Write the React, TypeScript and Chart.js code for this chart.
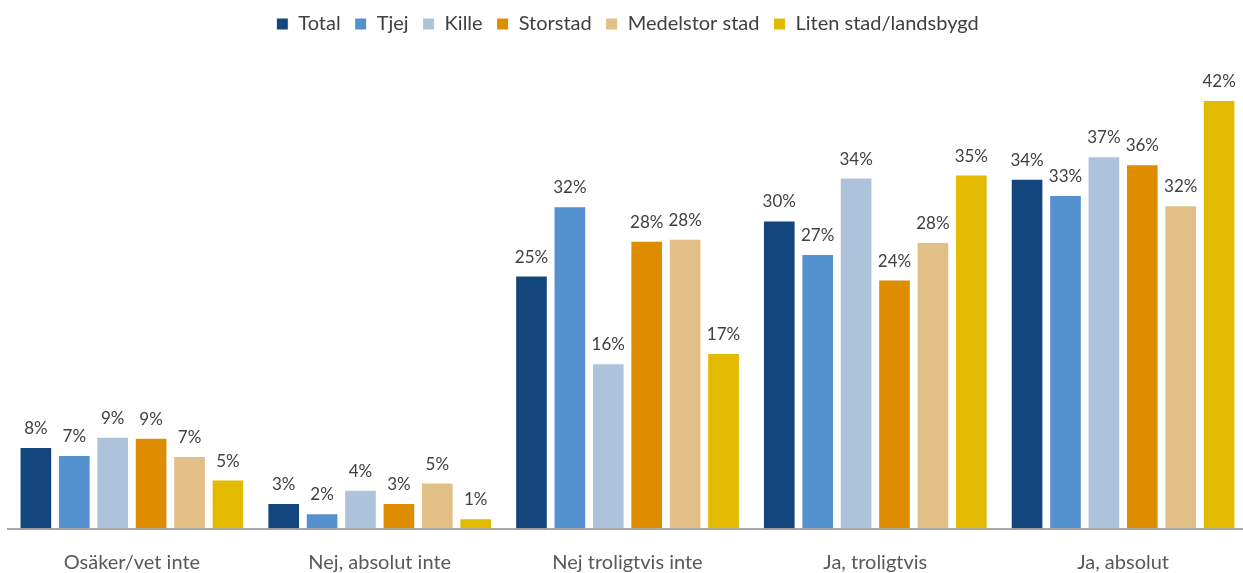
import React, { useEffect, useRef } from "react";
import { Chart, registerables } from "chart.js";

Chart.register(...registerables);

const categories = ["Osäker/vet inte", "Nej, absolut inte", "Nej troligtvis inte", "Ja, troligtvis", "Ja, absolut"];
const seriesNames = ["Total", "Tjej", "Kille", "Storstad", "Medelstor stad", "Liten stad/landsbygd"];
const total = [8.0, 2.5, 24.8, 30.2, 34.3];
const tjej = [7.2, 1.5, 31.6, 26.9, 32.7];
const kille = [9.0, 3.8, 16.2, 34.4, 36.5];
const storstad = [8.9, 2.5, 28.2, 24.4, 35.7];
const medelstor = [7.1, 4.5, 28.4, 28.1, 31.7];
const liten = [4.8, 1.0, 17.2, 34.7, 42.0];
const colors = ["#13467C", "#5591CF", "#ADC3DC", "#DE8C00", "#E2BF86", "#E2BA00"];

const FONT = "Lato, 'Open Sans', sans-serif";

const labelPlugin = {
  id: "barLabels",
  afterDatasetsDraw(chart: any) {
    const ctx = chart.ctx;
    ctx.save();
    ctx.font = `17px ${FONT}`;
    ctx.fillStyle = "#404040";
    ctx.textAlign = "center";
    ctx.textBaseline = "bottom";
    chart.data.datasets.forEach((ds: any, i: number) => {
      const meta = chart.getDatasetMeta(i);
      meta.data.forEach((bar: any, j: number) => {
        const v = ds.data[j];
        ctx.fillText(Math.round(v) + "%", bar.x, bar.y - 10);
      });
    });
    ctx.restore();
  },
};

export default function App() {
  const ref = useRef<HTMLCanvasElement>(null);
  useEffect(() => {
    const all = [total, tjej, kille, storstad, medelstor, liten];
    const chart = new Chart(ref.current!, {
      type: "bar",
      data: {
        labels: categories,
        datasets: all.map((d, i) => ({
          label: seriesNames[i],
          data: d,
          backgroundColor: colors[i],
          borderColor: "#ffffff",
          borderWidth: 1,
          barPercentage: 0.85,
          categoryPercentage: 0.93,
        })),
      },
      options: {
        animation: false,
        responsive: true,
        maintainAspectRatio: false,
        layout: { padding: { left: 8, right: 0, top: 0, bottom: 0 } },
        plugins: {
          legend: {
            position: "top",
            labels: {
              boxWidth: 12,
              boxHeight: 12,
              padding: 14,
              color: "#404040",
              font: { size: 20, family: FONT, lineHeight: 1.0 },
            },
          },
          tooltip: { enabled: false },
        },
        scales: {
          x: {
            grid: { display: false, drawTicks: false },
            border: { display: true, color: "#A6A6A6", width: 2 },
            ticks: { color: "#595959", padding: 22, font: { size: 20, family: FONT } },
            afterFit: (scale: any) => {
              scale.height = 44.5;
            },
          },
          y: {
            display: false,
            min: 0,
            max: 47.5,
          },
        },
      },
      plugins: [labelPlugin],
    });
    return () => chart.destroy();
  }, []);
  return (
    <div style={{ position: "absolute", left: 0, top: 0, width: 1243, height: 573, overflow: "hidden" }}>
      <div style={{ width: 1247, height: 573 }}>
        <canvas ref={ref} />
      </div>
    </div>
  );
}
